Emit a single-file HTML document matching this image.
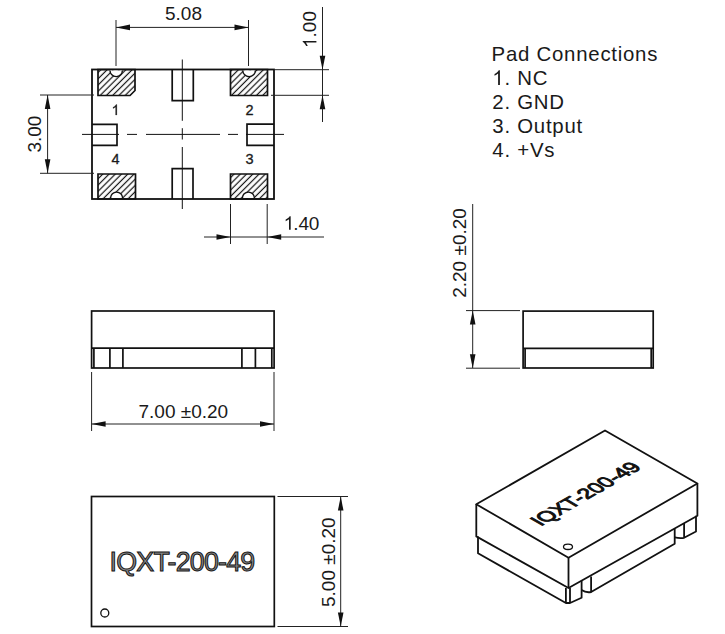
<!DOCTYPE html>
<html><head><meta charset="utf-8">
<style>
html,body{margin:0;padding:0;background:#fff;width:725px;height:634px;overflow:hidden;}
svg{display:block;}
text{font-family:"Liberation Sans", sans-serif;fill:#1a1a1a;}
</style></head>
<body>
<svg width="725" height="634" viewBox="0 0 725 634">
<defs>
<pattern id="hatch" patternUnits="userSpaceOnUse" width="4.42" height="4.42" patternTransform="rotate(45)">
<line x1="1.3" y1="-1" x2="1.3" y2="6" stroke="#111" stroke-width="1.2"/>
</pattern>
<path id="one" d="M763 0H583V1147Q518 1085 412.5 1023Q307 961 223 930V1104Q374 1175 487 1276Q600 1377 647 1472H763V0Z"/>
</defs>

<!-- ===== TOP VIEW ===== -->
<g fill="none" stroke="#111" stroke-width="1.8">
  <rect x="92" y="69.5" width="182" height="129.5"/>
</g>
<!-- pads -->
<g stroke="#111" stroke-width="1.7" fill="url(#hatch)">
  <path d="M98,69.5 H135 V90.5 L130,95.5 H98 Z"/>
  <path d="M230.5,69.5 H267.5 V95.5 H230.5 Z"/>
  <path d="M98,174 H135.5 V199 H98 Z"/>
  <path d="M230.5,174 H267.5 V199 H230.5 Z"/>
</g>
<g stroke="#111" stroke-width="1.4" fill="#fff">
  <path d="M110,70.4 A6.2,6.2 0 0 0 122.4,70.4" />
  <path d="M242.8,70.4 A6.3,6.3 0 0 0 255.4,70.4" />
  <path d="M110.6,198.1 A6,6 0 0 1 122.6,198.1" />
  <path d="M242.4,198.1 A6,6 0 0 1 254.4,198.1" />
</g>
<!-- small rects -->
<g fill="none" stroke="#111" stroke-width="1.7">
  <path d="M172.2,69.5 V100.7 H193.3 V69.5"/>
  <path d="M172.2,199 V168.6 H193 V199"/>
  <path d="M92,124.4 H117 V145.3 H92"/>
  <path d="M274,124.2 H247 V145.3 H274"/>
</g>
<!-- center lines -->
<g stroke="#111" stroke-width="1" fill="none">
  <path d="M82,134.4 H119 M127,134.4 H137 M146,134.4 H220 M228,134.4 H238 M246,134.4 H284"/>
  <path d="M182.3,59.5 V120.8 M182.3,128.2 V139.5 M182.3,147 V209"/>
</g>
<!-- pad numbers -->
<g font-size="14.5" text-anchor="middle" style="stroke:#1a1a1a;stroke-width:0.3">
  <text x="249.5" y="115">2</text>
  <text x="249.5" y="164">3</text>
  <text x="115.5" y="164">4</text>
</g>

<use href="#one" fill="#1a1a1a" stroke="#1a1a1a" stroke-width="32" transform="translate(111.47,115.00) scale(0.00708,-0.00708)"/>
<!-- dimension lines -->
<g stroke="#222" stroke-width="1" fill="none">
  <!-- 5.08 -->
  <path d="M116,20 V66 M248.5,20 V66 M116,27.4 H248.5"/>
  <!-- 1.00 -->
  <path d="M322.5,7 V122 M274,69.7 H329 M271,95.3 H329"/>
  <!-- 3.00 -->
  <path d="M47.6,95 V173.3 M40,95 H94 M40,173.3 H94"/>
  <!-- 1.40 -->
  <path d="M230.5,204 V244 M267.2,204 V244 M204,237 H324"/>
</g>
<g fill="#111">
  <path d="M116,27.4 l14,-2.8 v5.6 z"/>
  <path d="M248.5,27.4 l-14,-2.8 v5.6 z"/>
  <path d="M322.5,69.7 l-2.8,-14 h5.6 z"/>
  <path d="M322.5,95.3 l-2.8,14 h5.6 z"/>
  <path d="M47.6,95 l-2.8,14 h5.6 z"/>
  <path d="M47.6,173.3 l-2.8,-14 h5.6 z"/>
  <path d="M230.5,237 l-14,-2.8 v5.6 z"/>
  <path d="M267.2,237 l14,-2.8 v5.6 z"/>
</g>
<g font-size="19">
  <text x="165" y="20">5.08</text>
  <use href="#one" fill="#1a1a1a"  transform="translate(283.6,229.80) scale(0.00928,-0.00928)"/><text x="293.3" y="229.8" letter-spacing="-0.2">.40</text>
  <g transform="translate(316.4,48) rotate(-90)"><use href="#one" fill="#1a1a1a"  transform="translate(0.00,0.00) scale(0.00928,-0.00928)"/><text x="10.56" y="0">.00</text></g>
  <text transform="translate(40.9,152.6) rotate(-90)">3.00</text>
</g>

<!-- pad connections -->
<g font-size="20.4" letter-spacing="0.75">
  <text x="491.6" y="61">Pad Connections</text>
  <use href="#one" fill="#1a1a1a"  transform="translate(492.3,85.00) scale(0.00996,-0.00996)"/><text x="504.4" y="85">. NC</text>
  <text x="492.3" y="109">2. GND</text>
  <text x="492.3" y="133">3. Output</text>
  <text x="492.3" y="157">4. +Vs</text>
</g>

<!-- ===== SIDE VIEW ===== -->
<g fill="none" stroke="#111" stroke-width="1.7">
  <rect x="91.6" y="311" width="182.5" height="57"/>
  <path d="M91.6,348.2 H274 M93.9,348.2 V368 M109.9,348.2 V368 M122.9,348.2 V368 M241.9,348.2 V368 M255.4,348.2 V368 M271.8,348.2 V368"/>
</g>
<g stroke="#222" stroke-width="1" fill="none">
  <path d="M91.6,372 V431 M274,372 V431 M91.6,424 H274"/>
</g>
<g fill="#111">
  <path d="M91.6,424 l14,-2.8 v5.6 z"/>
  <path d="M274,424 l-14,-2.8 v5.6 z"/>
</g>
<text x="138.5" y="417.5" font-size="19">7.00 ±0.20</text>

<!-- ===== END VIEW ===== -->
<g fill="none" stroke="#111" stroke-width="1.7">
  <rect x="523.1" y="311.1" width="130.1" height="56.9"/>
  <path d="M523.1,348.4 H653.2 M525.1,348.4 V368 M651.2,348.4 V368"/>
</g>
<g stroke="#222" stroke-width="1" fill="none">
  <path d="M472.7,204 V368 M466,310.6 H520 M466,368.2 H520"/>
</g>
<g fill="#111">
  <path d="M472.7,310.6 l-2.8,14 h5.6 z"/>
  <path d="M472.7,368.2 l-2.8,-14 h5.6 z"/>
</g>
<text transform="translate(465.6,297.8) rotate(-90)" font-size="19">2.20 ±0.20</text>

<!-- ===== BOTTOM VIEW ===== -->
<g fill="none" stroke="#111" stroke-width="1.7">
  <rect x="91.5" y="496.5" width="182.8" height="130"/>
</g>
<circle cx="104.8" cy="613" r="4" fill="none" stroke="#111" stroke-width="1.3"/>
<text x="109.6" y="570.6" font-size="26.8" letter-spacing="-0.78" style="fill:#888;stroke:#111;stroke-width:1">IQXT-200-49</text>
<g stroke="#222" stroke-width="1" fill="none">
  <path d="M340.7,496.5 V626.5 M277.5,496.5 H348 M277.5,626.5 H348"/>
</g>
<g fill="#111">
  <path d="M340.7,496.5 l-2.8,14 h5.6 z"/>
  <path d="M340.7,626.5 l-2.8,-14 h5.6 z"/>
</g>
<text transform="translate(334.6,607) rotate(-90)" font-size="19">5.00 ±0.20</text>

<!-- ===== 3D VIEW ===== -->
<g fill="none" stroke="#111" stroke-width="1.8" stroke-linejoin="round">
  <path d="M476.3,504.3 L605,430.5 L697.4,483.5 L568.5,557.7 Z"/>
  <path d="M476.3,504.3 V536.4 L568.5,588 L697.4,515.7 V483.5"/>
  <path d="M568.5,557.7 V588"/>
  <path d="M478,536.4 V553.3 L565.9,603 H570 L581.6,597.8 V581"/>
  <path d="M565.9,588 V603 M570,588 V603"/>
  <path d="M581.6,590 Q586,593 591.1,592 V576.6"/>
  <path d="M591.1,592 L674.7,543.8 V528.8"/>
  <path d="M674.7,537.4 Q680,538.5 684.1,537.8 L696,531.5 V515.7 M684.1,537.8 V523"/>
</g>
<ellipse cx="568" cy="546.8" rx="4.5" ry="2.7" fill="none" stroke="#111" stroke-width="1.3"/>
<text transform="matrix(0.866,-0.5,0.866,0.5,540.8,526.6)" font-size="20.5" style="fill:#111;stroke:#111;stroke-width:1.1">IQXT-200-49</text>

</svg>
</body></html>
